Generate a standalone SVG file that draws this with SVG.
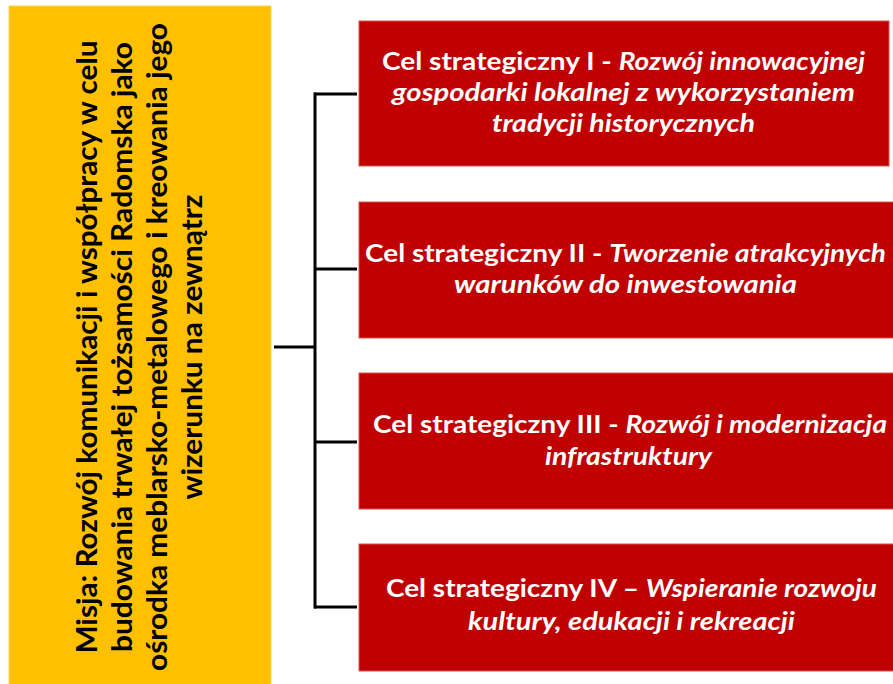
<svg xmlns="http://www.w3.org/2000/svg" width="893" height="684" viewBox="0 0 893 684">
<style>
.goal{fill:#C00000;stroke:#D9534F;stroke-width:1}
.mission{fill:#FFC000;stroke:#FFD34D;stroke-width:1}
.gt{font-family:Lato,"Liberation Sans",sans-serif;font-weight:bold;font-size:25px;fill:#FFFFFF}
.gt .it{font-style:italic}
.mt{font-family:Lato,"Liberation Sans",sans-serif;font-weight:bold;font-size:28px;fill:#000000;text-anchor:middle}
.conn{fill:none;stroke:#000000;stroke-width:3}
</style>
<rect width="893" height="684" fill="#FFFFFF"/>
<g id="mission">
<rect class="mission" x="9" y="6" width="262" height="690"/>
<g transform="translate(0,347) rotate(-90)">
<text class="mt" x="0" y="97" textLength="613" lengthAdjust="spacingAndGlyphs">Misja: Rozwój komunikacji i współpracy w celu</text>
<text class="mt" x="0" y="132" textLength="610" lengthAdjust="spacingAndGlyphs">budowania trwałej tożsamości Radomska jako</text>
<text class="mt" x="0" y="167" textLength="648" lengthAdjust="spacingAndGlyphs">ośrodka meblarsko-metalowego i kreowania jego</text>
<text class="mt" x="0" y="202" textLength="305" lengthAdjust="spacingAndGlyphs">wizerunku na zewnątrz</text>
</g>
</g>
<g id="connectors">
<path class="conn" d="M274 347H315"/>
<path class="conn" d="M315 92.5V608.5"/>
<path class="conn" d="M314 94H357"/>
<path class="conn" d="M314 269H357"/>
<path class="conn" d="M314 442H357"/>
<path class="conn" d="M314 607H357"/>
</g>
<g id="goal1">
<rect class="goal" x="359" y="21" width="530" height="145"/>
<text class="gt" x="382" y="70" textLength="483" lengthAdjust="spacingAndGlyphs">Cel strategiczny I - <tspan class="it">Rozwój innowacyjnej</tspan></text>
<text class="gt" x="392" y="101" textLength="463" lengthAdjust="spacingAndGlyphs"><tspan class="it">gospodarki lokalnej z wykorzystaniem</tspan></text>
<text class="gt" x="492" y="132" textLength="263" lengthAdjust="spacingAndGlyphs"><tspan class="it">tradycji historycznych</tspan></text>
</g>
<g id="goal2">
<rect class="goal" x="359" y="202" width="540" height="136"/>
<text class="gt" x="365" y="262" textLength="521" lengthAdjust="spacingAndGlyphs">Cel strategiczny II - <tspan class="it">Tworzenie atrakcyjnych</tspan></text>
<text class="gt" x="454" y="293" textLength="343" lengthAdjust="spacingAndGlyphs"><tspan class="it">warunków do inwestowania</tspan></text>
</g>
<g id="goal3">
<rect class="goal" x="359" y="373" width="540" height="136"/>
<text class="gt" x="373" y="433" textLength="514" lengthAdjust="spacingAndGlyphs">Cel strategiczny III - <tspan class="it">Rozwój i modernizacja</tspan></text>
<text class="gt" x="545" y="465" textLength="167" lengthAdjust="spacingAndGlyphs"><tspan class="it">infrastruktury</tspan></text>
</g>
<g id="goal4">
<rect class="goal" x="359" y="544" width="540" height="127"/>
<text class="gt" x="386" y="597" textLength="491" lengthAdjust="spacingAndGlyphs">Cel strategiczny IV – <tspan class="it">Wspieranie rozwoju</tspan></text>
<text class="gt" x="468" y="630" textLength="327" lengthAdjust="spacingAndGlyphs"><tspan class="it">kultury, edukacji i rekreacji</tspan></text>
</g>
</svg>
